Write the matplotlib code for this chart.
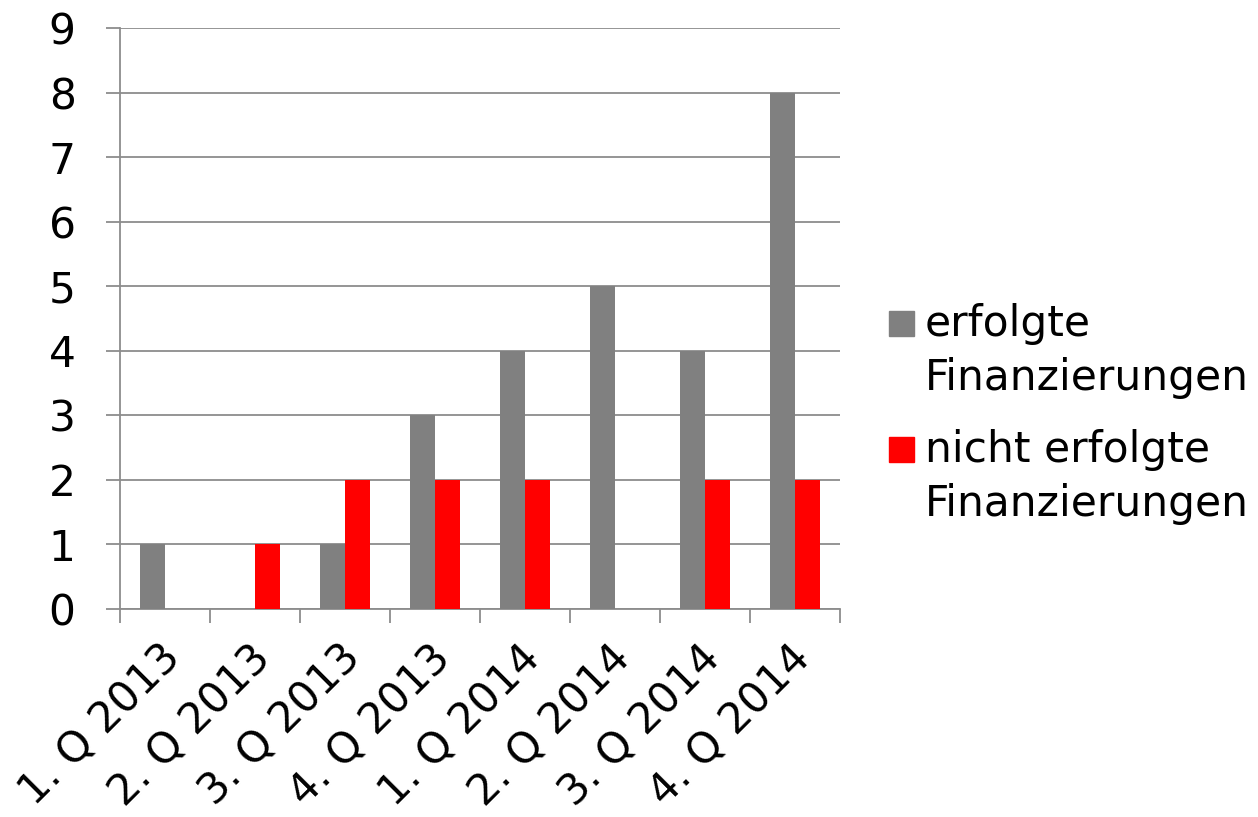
import matplotlib
matplotlib.use("Agg")
import matplotlib.pyplot as plt
from matplotlib.patches import Rectangle
import numpy as np

quartale = ["1. Q 2013", "2. Q 2013", "3. Q 2013", "4. Q 2013",
            "1. Q 2014", "2. Q 2014", "3. Q 2014", "4. Q 2014"]
erfolgt = [1, 0, 1, 3, 4, 5, 4, 8]
nicht_erfolgt = [0, 1, 2, 2, 2, 0, 2, 2]
serien = ["erfolgte\nFinanzierungen", "nicht erfolgte\nFinanzierungen"]
farben = ["#808080", "#FF0000"]

plt.rcParams["font.family"] = ["DejaVu Sans"]
GRAU = "#8c8c8c"
FS = 30.5

W, H = 1258, 817
fig = plt.figure(figsize=(W / 100, H / 100), dpi=100)
ax = fig.add_axes([120 / W, 1 - 609 / H, 720 / W, 581 / H])

x = np.arange(len(quartale))
breite = 0.28
ax.bar(x - breite / 2, erfolgt, width=breite, color=farben[0], zorder=3)
ax.bar(x + breite / 2, nicht_erfolgt, width=breite, color=farben[1], zorder=3)

ax.set_xlim(-0.5, len(quartale) - 0.5)
ax.set_ylim(0, 9)
ax.set_yticks(range(0, 10))
ax.yaxis.grid(True, color=GRAU, lw=1.3, zorder=0)
ax.tick_params(axis="y", length=10, color=GRAU, width=1.3, labelsize=FS, pad=22)

# Striche zwischen den Kategorien, Beschriftung (leicht nach links versetzt)
ax.set_xticks(np.arange(-0.5, len(quartale)), minor=False)
ax.set_xticklabels([])
ax.set_xticks(x - 0.06, minor=True)
ax.set_xticklabels(quartale, minor=True, rotation=45, ha="right", va="top",
                   rotation_mode="anchor", fontsize=FS)
ax.tick_params(axis="x", which="major", length=10, color=GRAU, width=1.3)
ax.tick_params(axis="x", which="minor", length=0, pad=20)

for side in ["top", "right"]:
    ax.spines[side].set_visible(False)
for side in ["left", "bottom"]:
    ax.spines[side].set_color(GRAU)
    ax.spines[side].set_linewidth(1.3)

# Legende: Quadrat auf Höhe der ersten Zeile
for i, (text, farbe) in enumerate(zip(serien, farben)):
    y0 = 311 + i * 126
    fig.add_artist(Rectangle((889 / W, 1 - (y0 + 25) / H), 25 / W, 25 / H,
                             transform=fig.transFigure, color=farbe))
    fig.text(925 / W, 1 - (y0 - 8) / H, text, fontsize=FS, ha="left",
             va="top", linespacing=1.35)

fig.savefig("out.png", dpi=100)
